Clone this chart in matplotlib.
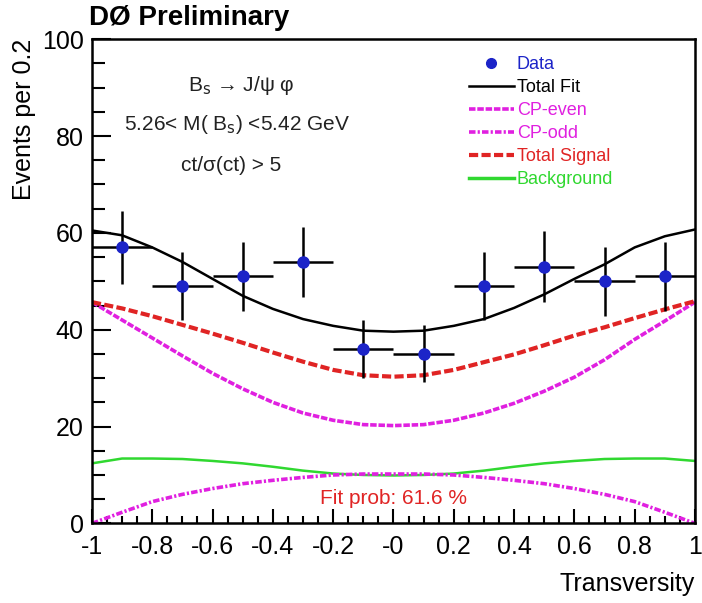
import matplotlib.pyplot as plt
from matplotlib.lines import Line2D
import numpy as np

plt.rcParams['font.family'] = ['Liberation Sans', 'DejaVu Sans']

# data points (bins of 0.2)
bin_x = [-0.9, -0.7, -0.5, -0.3, -0.1, 0.1, 0.3, 0.5, 0.7, 0.9]
counts = [57, 49, 51, 54, 36, 35, 49, 53, 50, 51]
count_err = [7.5, 7.0, 7.1, 7.3, 6.0, 5.9, 7.0, 7.3, 7.1, 7.1]
bin_half = 0.1

# fit curves
curve_x = [-1.0, -0.9, -0.8, -0.7, -0.6, -0.5, -0.4, -0.3, -0.2, -0.1, 0.0,
           0.1, 0.2, 0.3, 0.4, 0.5, 0.6, 0.7, 0.8, 0.9, 1.0]
total_fit = [60.5, 59.5, 57.0, 54.0, 50.5, 47.0, 44.3, 42.2, 40.8, 39.8, 39.6,
             39.8, 40.8, 42.2, 44.5, 47.3, 50.5, 53.5, 57.0, 59.3, 60.7]
cp_even = [45.7, 42.0, 38.3, 34.6, 31.0, 27.8, 25.0, 22.8, 21.3, 20.4, 20.2,
           20.4, 21.3, 22.8, 24.8, 27.3, 30.2, 33.8, 38.0, 41.8, 45.7]
cp_odd = [0.0, 2.3, 4.5, 6.0, 7.2, 8.2, 8.9, 9.5, 10.0, 10.2, 10.2,
          10.2, 10.0, 9.5, 8.9, 8.2, 7.2, 6.0, 4.5, 2.3, 0.0]
total_signal = [45.7, 44.4, 42.8, 41.0, 39.2, 37.3, 35.3, 33.4, 31.7, 30.6, 30.3,
                30.6, 31.7, 33.3, 34.9, 36.8, 38.8, 40.5, 42.4, 44.2, 45.9]
background = [12.4, 13.4, 13.4, 13.3, 12.9, 12.4, 11.7, 10.9, 10.3, 10.0, 9.9,
              10.0, 10.3, 10.9, 11.7, 12.4, 12.9, 13.3, 13.4, 13.4, 12.9]

xticks = [-1, -0.8, -0.6, -0.4, -0.2, 0, 0.2, 0.4, 0.6, 0.8, 1]
xtick_labels = ['-1', '-0.8', '-0.6', '-0.4', '-0.2', '-0', '0.2', '0.4', '0.6', '0.8', '1']

blue = '#1c24c8'
magenta = '#e020e0'
red = '#e02424'
green = '#30d830'

even_dash = (1.8, 0.5)
odd_dash = (1.8, 0.6, 0.6, 0.6)
sig_dash = (2.2, 0.8)

fig = plt.figure(figsize=(7.02, 6.03), dpi=100)
ax = fig.add_axes([0.131, 0.132, 0.859, 0.803])

ax.plot(curve_x, background, color=green, lw=1.8)
ax.plot(curve_x, cp_odd, color=magenta, lw=2.6, dashes=odd_dash)
ax.plot(curve_x, cp_even, color=magenta, lw=2.6, dashes=even_dash)
ax.plot(curve_x, total_signal, color=red, lw=3, dashes=sig_dash)
ax.plot(curve_x, total_fit, color='black', lw=1.8)
ax.errorbar(bin_x, counts, xerr=bin_half, yerr=count_err, fmt='o', color=blue,
            ms=8, ecolor='black', elinewidth=1.8, capsize=0, zorder=5)

ax.set_xlim(-1, 1)
ax.set_ylim(0, 100)
ax.set_xticks(xticks)
ax.set_xticklabels(xtick_labels)
ax.set_xticks(np.arange(-1, 1.001, 0.05), minor=True)
ax.set_yticks([0, 20, 40, 60, 80, 100])
ax.set_yticks(np.arange(0, 101, 5), minor=True)
ax.tick_params(axis='both', which='both', direction='in', labelsize=18, width=1.5)
ax.tick_params(axis='x', which='major', length=10, pad=8)
ax.tick_params(axis='x', which='minor', length=5)
ax.tick_params(axis='y', which='major', length=14, pad=6)
ax.tick_params(axis='y', which='minor', length=9)
for s in ax.spines.values():
    s.set_linewidth(1.8)

ax.set_xlabel('Transversity', fontsize=18, loc='right', labelpad=10)
ax.set_ylabel('Events per 0.2', fontsize=18, loc='top', labelpad=4)

fig.text(0.127, 0.97, 'DØ Preliminary', fontsize=20, fontweight='bold', va='center', ha='left')

ax.text(-0.505, 90.4, 'B$_{\\rm s}$ → J/ψ φ', fontsize=15, ha='center', va='center', color='#222222')
ax.text(-0.52, 82.3, '5.26< M( B$_{\\rm s}$) <5.42 GeV', fontsize=15, ha='center', va='center', color='#222222')
ax.text(-0.54, 73.9, 'ct/σ(ct) > 5', fontsize=15, ha='center', va='center', color='#222222')

ax.text(0.0, 5.2, 'Fit prob: 61.6 %', fontsize=15, ha='center', va='center', color=red)

handles = [
    Line2D([], [], marker='o', ls='none', color=blue, ms=7),
    Line2D([], [], color='black', lw=1.8),
    Line2D([], [], color=magenta, lw=2.6, dashes=even_dash),
    Line2D([], [], color=magenta, lw=2.6, dashes=odd_dash),
    Line2D([], [], color=red, lw=3, dashes=sig_dash),
    Line2D([], [], color=green, lw=2.5),
]
labels = ['Data', 'Total Fit', 'CP-even', 'CP-odd', 'Total Signal', 'Background']
text_colors = [blue, 'black', magenta, magenta, red, green]
leg = ax.legend(handles, labels, loc='upper left', bbox_to_anchor=(0.625, 0.965),
                frameon=False, fontsize=13, handlelength=2.5, handletextpad=0.15,
                labelspacing=0.33, borderpad=0, borderaxespad=0)
for t, c in zip(leg.get_texts(), text_colors):
    t.set_color(c)

fig.savefig('out.png', dpi=100)
